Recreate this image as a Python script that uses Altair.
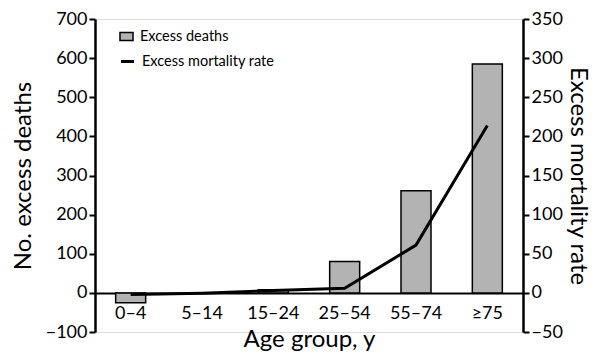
import altair as alt
import pandas as pd

ages = ["0–4", "5–14", "15–24", "25–54", "55–74", "≥75"]
excess_deaths = [-25, -1, 8, 80, 261, 585]
excess_rate = [-2, -0.5, 3, 6, 61, 214]

df = pd.DataFrame({"age": ages, "deaths": excess_deaths, "rate": excess_rate})

FONT = "Lato"

x = alt.X(
    "age:N",
    sort=ages,
    scale=alt.Scale(paddingInner=0, paddingOuter=0),
    axis=alt.Axis(
        title="Age group, y",
        labelAngle=0,
        ticks=False,
        offset=-39,
        domainColor="black",
        domainWidth=2,
        labelFontSize=18,
        labelPadding=11,
        titleFontSize=24,
        titleFontWeight="normal",
        titleBaseline="alphabetic",
        titleY=53,
        labelColor="black",
        titleColor="black",
    ),
)

bars = alt.Chart(df).mark_bar(size=30, stroke="black", strokeWidth=1.5).encode(
    x=x,
    y=alt.Y(
        "deaths:Q",
        scale=alt.Scale(domain=[-100, 700], nice=False, zero=False),
        axis=alt.Axis(
            title="No. excess deaths",
            values=[-100, 0, 100, 200, 300, 400, 500, 600, 700],
            grid=False,
            domainColor="black",
            domainWidth=2.5,
            tickColor="black",
            tickWidth=2,
            tickSize=6,
            labelFontSize=18,
            labelColor="black",
            titleFontSize=24,
            titleFontWeight="normal",
            titleColor="black",
            titlePadding=10,
        ),
    ),
    fill=alt.Fill(
        "series:N",
        scale=alt.Scale(domain=["Excess deaths"], range=["#b3b3b3"]),
        legend=alt.Legend(
            title=None,
            orient="none",
            legendX=24,
            legendY=10,
            symbolType="M-1,-0.6H1V0.6H-1Z",
            symbolSize=170,
            symbolStrokeColor="black",
            symbolStrokeWidth=1.5,
            labelFontSize=14.5,
            labelColor="black",
            labelOffset=6,
        ),
    ),
).transform_calculate(series="'Excess deaths'")

line = alt.Chart(df).mark_line(color="black", strokeWidth=3).encode(
    x=x,
    y=alt.Y(
        "rate:Q",
        scale=alt.Scale(domain=[-50, 350], nice=False, zero=False),
        axis=alt.Axis(
            title="Excess mortality rate",
            orient="right",
            values=[-50, 0, 50, 100, 150, 200, 250, 300, 350],
            grid=False,
            domainColor="black",
            domainWidth=2.5,
            tickColor="black",
            tickWidth=2,
            tickSize=6,
            labelFontSize=18,
            labelColor="black",
            titleFontSize=24,
            titleFontWeight="normal",
            titleColor="black",
            titlePadding=3,
        ),
    ),
    stroke=alt.Stroke(
        "series:N",
        scale=alt.Scale(domain=["Excess mortality rate"], range=["black"]),
        legend=alt.Legend(
            title=None,
            orient="none",
            legendX=24,
            legendY=34,
            symbolType="stroke",
            symbolStrokeWidth=3,
            symbolSize=170,
            labelFontSize=14.5,
            labelColor="black",
            labelOffset=6,
        ),
    ),
).transform_calculate(series="'Excess mortality rate'")

chart = (
    alt.layer(bars, line)
    .resolve_scale(y="independent", fill="independent", stroke="independent")
    .properties(
        width=428,
        height=313,
        autosize=alt.AutoSizeParams(type="none"),
        padding={"left": 87, "top": 11, "right": 74, "bottom": 19},
    )
    .configure_view(stroke=None)
    .configure(font=FONT)
)

chart.save("out.html", embed_options={"renderer": "svg", "actions": False})
